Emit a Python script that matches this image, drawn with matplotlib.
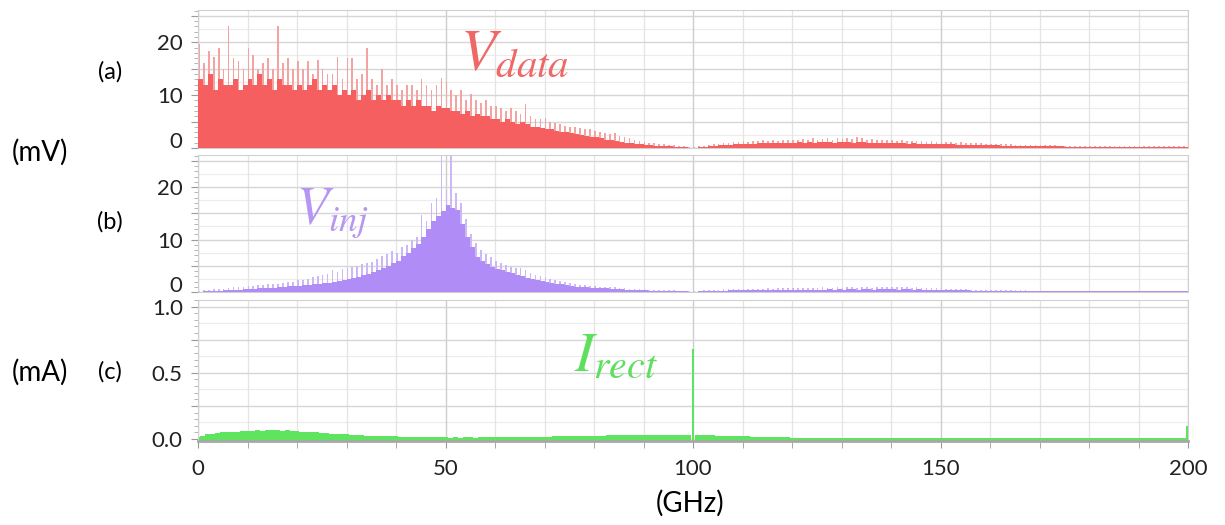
"""Three stacked spectra: V_data, V_inj and I_rect versus frequency."""
import numpy as np
import matplotlib

matplotlib.use("Agg")
import matplotlib.pyplot as plt
from matplotlib.ticker import MultipleLocator, FuncFormatter
from matplotlib.transforms import ScaledTranslation

plt.rcParams["font.family"] = ["Lato", "DejaVu Sans"]
plt.rcParams["mathtext.fontset"] = "stix"

# frequency bins (GHz), 1 GHz apart
freq = np.arange(0, 200)
freq_c = np.arange(0, 201)

# (a) V_data, mV: dense floor and spike tops
a_floor = [
    13, 12, 14, 11, 13, 12, 12, 13, 11, 12,
    13, 12, 14, 12, 13, 11, 13, 12, 12, 11,
    12, 11, 12, 13, 11, 12, 11, 12, 10, 11,
    10, 11, 9, 10, 11, 9, 10, 9, 10, 9,
    9, 8, 9, 8, 9, 8, 8, 7, 8, 7.5,
    7.5, 7, 7, 6.5, 7, 6, 6.5, 6, 6, 5.5,
    5.5, 5, 5.5, 5, 4.5, 5, 4.5, 4, 4, 3.8,
    3.5, 3.5, 3.2, 3, 3, 2.8, 2.6, 2.4, 2.2, 2,
    2, 1.8, 1.6, 1.5, 1.3, 1.2, 1.0, 0.9, 0.8, 0.7,
    0.6, 0.5, 0.45, 0.4, 0.35, 0.3, 0.25, 0.2, 0.1, 0.05,
    0.05, 0.1, 0.2, 0.3, 0.4, 0.5, 0.55, 0.6, 0.7, 0.75,
    0.8, 0.8, 0.85, 0.9, 0.9, 0.95, 0.95, 1.0, 1.0, 1.0,
    1.0, 1.05, 1.0, 1.1, 1.0, 1.1, 1.05, 1.1, 1.0, 1.1,
    1.05, 1.1, 1.0, 1.05, 1.1, 1.0, 1.0, 0.95, 1.0, 0.95,
    0.95, 0.9, 0.9, 0.85, 0.9, 0.85, 0.8, 0.8, 0.8, 0.75,
    0.75, 0.7, 0.7, 0.65, 0.65, 0.6, 0.6, 0.55, 0.55, 0.5,
    0.5, 0.5, 0.45, 0.45, 0.4, 0.4, 0.4, 0.35, 0.35, 0.35,
    0.3, 0.3, 0.3, 0.3, 0.3, 0.25, 0.25, 0.25, 0.25, 0.25,
    0.25, 0.2, 0.2, 0.2, 0.2, 0.2, 0.2, 0.2, 0.2, 0.2,
    0.2, 0.2, 0.2, 0.2, 0.2, 0.2, 0.2, 0.2, 0.2, 0.2,
]
a_peak = [
    19.6, 16, 18.4, 17.2, 19, 15, 23, 17, 16.4, 15,
    19, 17.5, 15, 16, 17, 15, 23, 16, 17, 15,
    16.4, 15, 16.4, 14, 16.7, 15, 14, 14, 17.3, 13,
    17, 17, 13, 14, 19, 13, 12, 15, 12, 13,
    12, 11, 12, 12, 11, 13, 12, 11, 12, 13.3,
    12.4, 11, 10, 11, 9, 10.2, 9, 8.5, 9, 8,
    8, 7.5, 7, 7.5, 7, 6.5, 8.4, 6, 5.5, 5.5,
    5.7, 5, 4.8, 4.5, 4.2, 4, 4, 3.8, 3.5, 3.5,
    3.2, 3, 2.8, 2.6, 2.9, 2.2, 2, 1.8, 1.6, 1.4,
    1.2, 1.0, 0.9, 0.8, 0.7, 0.6, 0.5, 0.4, 0.3, 0.2,
    0.1, 0.3, 0.4, 0.5, 0.7, 0.8, 0.9, 1.0, 1.1, 1.2,
    1.3, 1.2, 1.4, 1.3, 1.5, 1.4, 1.5, 1.4, 1.6, 1.5,
    1.6, 1.5, 1.7, 1.6, 1.8, 1.6, 1.7, 1.9, 1.6, 1.8,
    1.7, 1.9, 1.7, 2.0, 1.8, 1.6, 1.7, 1.6, 1.5, 1.6,
    1.5, 1.4, 1.5, 1.4, 1.3, 1.4, 1.3, 1.2, 1.3, 1.2,
    1.2, 1.1, 1.1, 1.0, 1.1, 1.0, 0.9, 0.9, 0.9, 0.8,
    0.8, 0.8, 0.7, 0.7, 0.7, 0.6, 0.6, 0.6, 0.6, 0.5,
    0.5, 0.5, 0.5, 0.5, 0.45, 0.45, 0.45, 0.4, 0.4, 0.4,
    0.4, 0.4, 0.4, 0.35, 0.35, 0.35, 0.35, 0.35, 0.35, 0.35,
    0.35, 0.35, 0.35, 0.3, 0.3, 0.3, 0.3, 0.3, 0.3, 0.3,
]

# (b) V_inj, mV
b_floor = [
    0.05, 0.1, 0.15, 0.2, 0.25, 0.3, 0.35, 0.4, 0.45, 0.5,
    0.6, 0.65, 0.7, 0.75, 0.8, 0.85, 0.9, 1.0, 1.05, 1.1,
    1.2, 1.3, 1.4, 1.5, 1.6, 1.7, 1.8, 2.0, 2.1, 2.3,
    2.5, 2.7, 2.9, 3.2, 3.5, 3.8, 4.2, 4.6, 5.0, 5.5,
    6.0, 6.8, 7.5, 8.3, 9.2, 10.5, 12, 13.5, 14.5, 15.5,
    16.5, 16, 15.6, 13, 10.5, 8.5, 6.7, 6.0, 5.3, 4.8,
    4.4, 4.1, 3.8, 3.6, 3.3, 3.0, 2.7, 2.5, 2.3, 2.1,
    1.9, 1.7, 1.6, 1.5, 1.3, 1.2, 1.0, 0.95, 0.9, 0.85,
    0.8, 0.75, 0.7, 0.65, 0.6, 0.5, 0.45, 0.4, 0.35, 0.3,
    0.3, 0.25, 0.25, 0.2, 0.2, 0.2, 0.15, 0.1, 0.1, 0.05,
    0.05, 0.1, 0.15, 0.2, 0.2, 0.25, 0.25, 0.3, 0.3, 0.3,
    0.3, 0.35, 0.3, 0.35, 0.35, 0.4, 0.35, 0.4, 0.4, 0.4,
    0.4, 0.45, 0.4, 0.45, 0.4, 0.45, 0.45, 0.5, 0.45, 0.5,
    0.45, 0.5, 0.5, 0.45, 0.5, 0.5, 0.45, 0.5, 0.5, 0.5,
    0.5, 0.45, 0.5, 0.5, 0.45, 0.5, 0.45, 0.45, 0.4, 0.4,
    0.4, 0.35, 0.35, 0.3, 0.3, 0.3, 0.25, 0.25, 0.25, 0.2,
    0.2, 0.2, 0.2, 0.2, 0.15, 0.15, 0.15, 0.15, 0.15, 0.15,
    0.15, 0.12, 0.12, 0.12, 0.12, 0.12, 0.1, 0.1, 0.1, 0.1,
    0.1, 0.1, 0.1, 0.1, 0.1, 0.1, 0.1, 0.1, 0.1, 0.1,
    0.1, 0.1, 0.1, 0.1, 0.1, 0.1, 0.1, 0.1, 0.1, 0.1,
]
b_peak = [
    0.2, 0.3, 0.4, 0.5, 0.6, 0.6, 0.8, 0.9, 0.9, 1.0,
    1.1, 1.2, 1.3, 1.3, 1.5, 1.6, 1.6, 1.8, 1.9, 2.0,
    2.2, 2.3, 2.5, 2.8, 3.0, 3.3, 3.5, 4.2, 3.8, 4.4,
    4.6, 4.8, 5.0, 5.3, 5.5, 5.8, 6.3, 6.8, 7.2, 7.8,
    7.4, 8.5, 9.0, 10, 10.5, 14.7, 13.5, 17, 18, 26,
    19.4, 26, 18.8, 17, 14, 11, 9.3, 8, 7.2, 6.7,
    6.0, 5.6, 5.2, 4.8, 4.6, 4.5, 4.2, 3.6, 3.3, 3.0,
    2.8, 2.5, 2.3, 2.1, 1.9, 1.7, 1.5, 1.4, 1.3, 1.2,
    1.1, 1.0, 1.0, 0.9, 0.9, 0.8, 0.7, 0.6, 0.6, 0.5,
    0.5, 0.45, 0.4, 0.4, 0.35, 0.3, 0.3, 0.25, 0.2, 0.1,
    0.1, 0.2, 0.3, 0.35, 0.4, 0.45, 0.5, 0.5, 0.55, 0.5,
    0.6, 0.55, 0.6, 0.65, 0.6, 0.7, 0.65, 0.7, 0.75, 0.7,
    0.75, 0.8, 0.7, 0.85, 0.75, 0.8, 0.9, 0.8, 0.85, 0.9,
    0.8, 0.9, 0.95, 0.85, 0.9, 1.0, 0.85, 0.9, 0.95, 0.9,
    1.0, 0.9, 0.95, 1.0, 0.85, 0.9, 0.8, 0.85, 0.75, 0.7,
    0.7, 0.6, 0.6, 0.55, 0.5, 0.5, 0.45, 0.45, 0.4, 0.4,
    0.35, 0.35, 0.35, 0.3, 0.3, 0.3, 0.3, 0.3, 0.25, 0.25,
    0.25, 0.25, 0.25, 0.2, 0.2, 0.2, 0.2, 0.2, 0.2, 0.2,
    0.2, 0.2, 0.2, 0.2, 0.2, 0.2, 0.2, 0.2, 0.2, 0.2,
    0.2, 0.2, 0.2, 0.2, 0.2, 0.2, 0.2, 0.2, 0.2, 0.2,
]

# (c) I_rect, mA (0..200 GHz inclusive)
c_current = [
    0.015, 0.025, 0.035, 0.04, 0.045, 0.05, 0.05, 0.055, 0.055, 0.06,
    0.06, 0.06, 0.065, 0.06, 0.065, 0.07, 0.065, 0.06, 0.065, 0.06,
    0.06, 0.055, 0.055, 0.05, 0.05, 0.045, 0.045, 0.04, 0.04, 0.035,
    0.035, 0.03, 0.03, 0.03, 0.025, 0.025, 0.025, 0.02, 0.02, 0.02,
    0.02, 0.018, 0.018, 0.015, 0.015, 0.015, 0.012, 0.012, 0.012, 0.012,
    0.012, 0.011, 0.012, 0.011, 0.012, 0.012, 0.011, 0.012, 0.012, 0.012,
    0.012, 0.013, 0.013, 0.014, 0.014, 0.015, 0.015, 0.016, 0.016, 0.017,
    0.018, 0.018, 0.019, 0.02, 0.02, 0.021, 0.022, 0.022, 0.023, 0.024,
    0.025, 0.025, 0.026, 0.027, 0.027, 0.028, 0.028, 0.029, 0.03, 0.03,
    0.03, 0.031, 0.031, 0.032, 0.032, 0.033, 0.032, 0.033, 0.032, 0.031,
    0.68,
    0.03, 0.029, 0.028, 0.027, 0.026, 0.025, 0.024, 0.022, 0.021, 0.02,
    0.019, 0.018, 0.017, 0.016, 0.015, 0.014, 0.013, 0.012, 0.012, 0.011,
    0.011, 0.01, 0.011, 0.01, 0.01, 0.011, 0.01, 0.01, 0.011, 0.01,
    0.01, 0.01, 0.011, 0.01, 0.01, 0.01, 0.011, 0.01, 0.01, 0.01,
    0.01, 0.011, 0.01, 0.01, 0.01, 0.01, 0.011, 0.01, 0.01, 0.01,
    0.01, 0.01, 0.01, 0.011, 0.01, 0.01, 0.01, 0.01, 0.011, 0.01,
    0.01, 0.01, 0.01, 0.01, 0.01, 0.011, 0.01, 0.01, 0.01, 0.01,
    0.01, 0.01, 0.011, 0.01, 0.01, 0.01, 0.01, 0.01, 0.01, 0.011,
    0.01, 0.01, 0.01, 0.01, 0.01, 0.01, 0.01, 0.01, 0.01, 0.01,
    0.01, 0.011, 0.01, 0.01, 0.01, 0.01, 0.011, 0.01, 0.01,
    0.1,
]

RED, RED_LT = "#F65F5F", "#F4A3A3"
PURPLE, PURPLE_LT = "#B08CF6", "#CDB8F7"
GREEN = "#5EE45E"

W, H = 1225, 525
fig = plt.figure(figsize=(W / 100, H / 100), dpi=100)


def px_axes(top, bottom, left=198, right=1188):
    return fig.add_axes([left / W, 1 - bottom / H, (right - left) / W, (bottom - top) / H])


ax_a = px_axes(10, 148)
ax_b = px_axes(155, 292)
ax_c = px_axes(300, 441)


def style(ax, major, minor, fmt, band):
    ax.set_xlim(0, 200)
    ax.xaxis.set_major_locator(MultipleLocator(50))
    ax.xaxis.set_minor_locator(MultipleLocator(10))
    ax.yaxis.set_major_locator(MultipleLocator(major))
    ax.yaxis.set_minor_locator(MultipleLocator(minor))
    ax.yaxis.set_major_formatter(FuncFormatter(fmt))
    ax.grid(True, which="major", axis="x", color="#cdcdcd", lw=1.0)
    ax.grid(True, which="minor", axis="x", color="#e4e4e4", lw=0.9)
    ax.grid(True, which="major", axis="y", color="#d6d6d6", lw=1.0)
    for y in np.arange(band / 2, ax.get_ylim()[1], band):
        ax.axhline(y, color="#ececec", lw=0.8, zorder=0)
    ax.set_axisbelow(True)
    for s in ax.spines.values():
        s.set_color("#d0d0d0")
    ax.tick_params(axis="y", which="major", length=5, color="#999999", labelsize=16, pad=6,
                   labelcolor="#222222")
    ax.tick_params(axis="y", which="minor", length=3, color="#aaaaaa")
    ax.tick_params(axis="x", which="both", bottom=False, labelbottom=False)


def spectrum(ax, floor, peak, solid, light):
    ax.bar(freq, peak, width=0.35, color=light, align="edge", zorder=2)
    ax.bar(freq, floor, width=1.0, color=solid, align="edge", zorder=3)


ax_a.set_ylim(0, 26.1)
spectrum(ax_a, a_floor, a_peak, RED, RED_LT)
style(ax_a, 5, 1, lambda v, p: f"{v:.0f}" if v % 10 == 0 else "", 5)

ax_b.set_ylim(0, 26.1)
spectrum(ax_b, b_floor, b_peak, PURPLE, PURPLE_LT)
style(ax_b, 5, 1, lambda v, p: f"{v:.0f}" if v % 10 == 0 else "", 5)

ax_c.set_ylim(-0.015, 1.05)
cur = np.asarray(c_current)
# narrow bar for the tall line at 100 GHz, full-width bins elsewhere
c_width = np.where(cur < 0.3, 1.0, 0.4)
ax_c.bar(freq_c, cur + 0.015, bottom=-0.015, width=c_width, color=GREEN, lw=0, zorder=2)
style(ax_c, 0.25, 0.05, lambda v, p: f"{v:.1f}" if abs(v * 2 - round(v * 2)) < 1e-6 else "", 0.25)
ax_c.spines["bottom"].set_color("#a8a8a8")
ax_c.spines["bottom"].set_linewidth(2)
ax_c.tick_params(axis="x", which="both", bottom=True, labelbottom=True, length=5,
                 color="#999999", labelsize=16, pad=8, labelcolor="#222222")

# curve names
ax_a.text(53, 14.8, r"$V_{data}$", color="#EF6767", fontsize=42, ha="left", va="baseline")
ax_b.text(19.8, 13.0, r"$V_{inj}$", color="#B597F2", fontsize=38, ha="left", va="baseline")
ax_c.text(76.0, 0.52, r"$I_{rect}$", color="#5EDF5E", fontsize=41, ha="left", va="baseline")

# panel tags and units
fig.text(110 / W, 1 - 72 / H, "(a)", fontsize=17, ha="center", va="center")
fig.text(110 / W, 1 - 222 / H, "(b)", fontsize=17, ha="center", va="center")
fig.text(110 / W, 1 - 372 / H, "(c)", fontsize=17, ha="center", va="center")
fig.text(40 / W, 1 - 152 / H, "(mV)", fontsize=20, ha="center", va="center")
fig.text(40 / W, 1 - 372 / H, "(mA)", fontsize=20, ha="center", va="center")
fig.text(690 / W, 1 - 503 / H, "(GHz)", fontsize=20, ha="center", va="center")

# the "0" labels of the two voltage panels sit a little above the baseline
fig.canvas.draw()
lift = ScaledTranslation(0, 6 / 72, fig.dpi_scale_trans)
for ax in (ax_a, ax_b):
    for tick in ax.yaxis.get_major_ticks():
        if tick.label1.get_text() == "0":
            tick.label1.set_transform(tick.label1.get_transform() + lift)

fig.savefig("out.png", dpi=100)
